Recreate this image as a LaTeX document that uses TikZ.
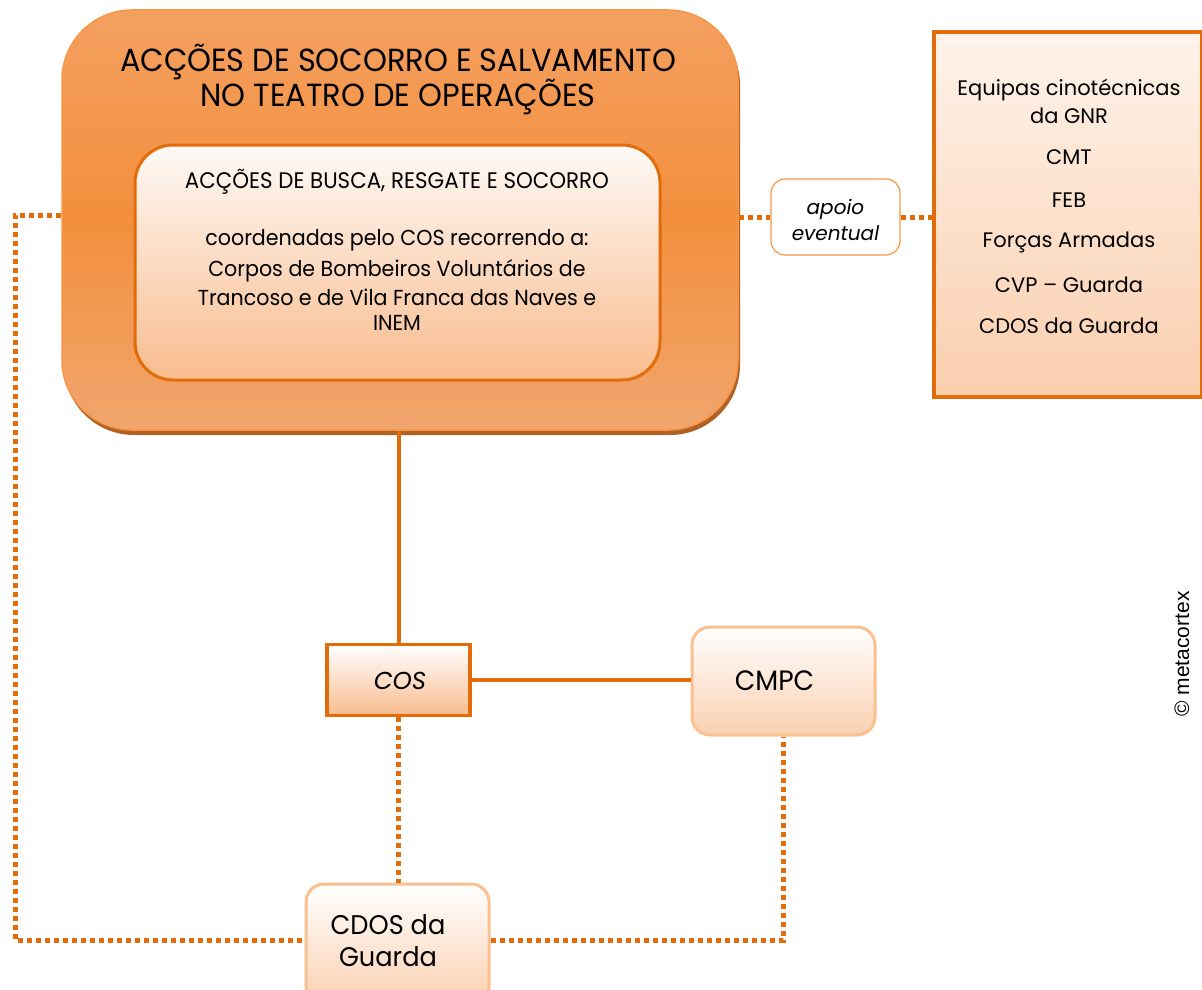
\documentclass[tikz,border=0pt]{standalone}
\usepackage{fontspec}
\setmainfont{Poppins}
\newfontfamily\cond[FakeStretch=0.95]{Poppins}
\newfontfamily\arialf{Liberation Sans}
\usetikzlibrary{shadows}
\definecolor{dorange}{HTML}{E36C0A}
\definecolor{morange}{HTML}{F79646}
\definecolor{lorange}{HTML}{FAC090}
\definecolor{paleor}{HTML}{F8BC8E}
\definecolor{shadowor}{HTML}{A9500C}
\definecolor{bigtop}{HTML}{F4A060}
\definecolor{bigmid}{HTML}{F38F3D}
\definecolor{bigbot}{HTML}{F1A66E}
\begin{document}
\begin{tikzpicture}[x=1pt,y=-1pt,
  bigbox/.style={rectangle, rounded corners=70pt, minimum width=676pt, minimum height=420pt,
    draw=morange, line width=1.5pt, top color=bigtop, bottom color=bigbot, middle color=bigmid,
    drop shadow={shadow xshift=2pt, shadow yshift=-5pt, fill=shadowor, opacity=0.9}},
  innerbox/.style={rectangle, rounded corners=38pt, minimum width=525pt, minimum height=235pt,
    draw=dorange, line width=3pt, top color=white!92!paleor, bottom color=paleor},
  sidebox/.style={rectangle, minimum width=268pt, minimum height=365pt,
    draw=dorange, line width=4pt, top color=paleor!18!white, bottom color=paleor!72!white},
  apoiobox/.style={rectangle, rounded corners=14pt, minimum width=129pt, minimum height=76pt,
    draw=morange, line width=1.2pt, fill=white},
  cosbox/.style={rectangle, minimum width=143pt, minimum height=71pt,
    draw=dorange, line width=3.5pt, top color=white, bottom color=paleor},
  softbox/.style={rectangle, rounded corners=18pt, draw=lorange, line width=3pt,
    top color=white, bottom color=paleor!70!white},
  solidline/.style={draw=dorange, line width=4pt},
  dotline/.style={draw=dorange, line width=5pt, dash pattern=on 5pt off 4pt},
  txt/.style={inner sep=0pt, align=center},
  titlef/.style={txt, font=\cond\fontsize{32}{35}\selectfont},
  innerf/.style={txt, font=\cond\fontsize{21.7}{24}\selectfont},
  sidef/.style={txt, font=\fontsize{21}{24}\selectfont}
]
\useasboundingbox (0,0) rectangle (1202,990);

\coordinate (L1) at (15,215);
\coordinate (L2) at (15,940);
\coordinate (R2) at (783,940);

% big box
\node[bigbox] (big) at (400,220) {};
\node[titlef] (title1) at (398,62) {ACÇÕES DE SOCORRO E SALVAMENTO};
\node[titlef] (title2) at (398,97) {NO TEATRO DE OPERAÇÕES};
\node[innerbox] (inner) at (397.5,262.5) {};
\node[txt, font=\cond\fontsize{22.5}{24}\selectfont] (t1) at (397,182) {ACÇÕES DE BUSCA, RESGATE E SOCORRO};
\node[innerf] (t2) at (397,240) {coordenadas pelo COS recorrendo a:};
\node[innerf] (t3) at (397,271) {Corpos de Bombeiros Voluntários de};
\node[innerf] (t4) at (397,297) {Trancoso e de Vila Franca das Naves e};
\node[innerf] (t5) at (397,323) {INEM};

% side box
\node[sidebox] (side) at (1068,214.5) {};
\node[sidef] (s1) at (1069,90) {Equipas cinotécnicas};
\node[sidef] (s2) at (1069,116) {da GNR};
\node[sidef] (s3) at (1069,157) {CMT};
\node[sidef] (s4) at (1069,200) {FEB};
\node[sidef] (s5) at (1069,242) {Forças Armadas};
\node[sidef] (s6) at (1069,285) {CVP – Guarda};
\node[sidef] (s7) at (1069,326) {CDOS da Guarda};

% apoio eventual
\node[apoiobox] (apoio) at (835.5,217) {};
\node[txt, font=\itshape\fontsize{20}{26}\selectfont] (at) at (835.5,220) {apoio\\eventual};

% COS, CMPC, CDOS
\node[cosbox] (cos) at (398.5,680) {};
\node[txt, font=\itshape\fontsize{24.5}{28}\selectfont] (cost) at (400,681) {COS};
\node[softbox, minimum width=183pt, minimum height=108pt] (cmpc) at (783.5,681) {};
\node[txt, font=\cond\fontsize{28}{30}\selectfont] (cmpct) at (774.5,681) {CMPC};
\node[softbox, minimum width=183pt, minimum height=120pt] (cdos) at (397.5,944) {};
\node[txt, font=\cond\fontsize{27}{32}\selectfont] (cdost) at (388,941) {CDOS da\\Guarda};

% connectors
\draw[solidline] (big.south -| cos.north) -- (cos.north);
\draw[solidline] (cos.east) -- (cos.east -| cmpc.west);
\draw[dotline] (cos.south) -- (cdos.north -| cos.south);
\draw[dotline] (big.west |- L1) -- (L1) -- (L2) -- (cdos.west |- L2);
\draw[dotline] (cdos.east |- R2) -- (R2) -- (cmpc.south -| R2);
\draw[dotline] (big.east |- apoio.west) -- (apoio.west);
\draw[dotline] (apoio.east) -- (side.west |- apoio.east);

% copyright
\node[txt, rotate=90, font=\arialf\fontsize{21}{24}\selectfont] (copy) at (1182,654) {© metacortex};
\end{tikzpicture}
\end{document}
